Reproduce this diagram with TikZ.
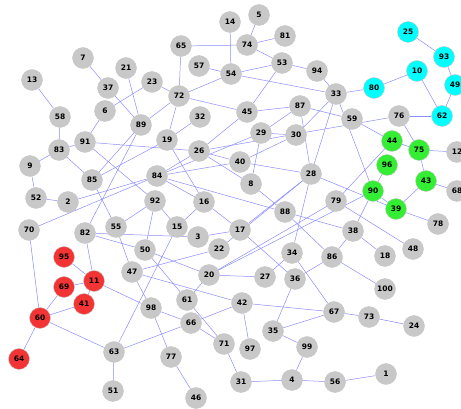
\documentclass[tikz,border=0pt]{standalone}
\usepackage{fontspec}
\setmainfont{DejaVu Sans}
\pgfdeclarelayer{background}
\pgfsetlayers{background,main}
\definecolor{vgray}{RGB}{200,200,200}
\definecolor{vcyan}{RGB}{0,255,255}
\definecolor{vgreen}{RGB}{52,238,52}
\definecolor{vred}{RGB}{242,52,52}
\definecolor{elink}{RGB}{140,140,255}
\tikzset{
  vtx/.style={circle, minimum size=21pt, inner sep=0pt, draw=black!22, line width=0.4pt,
    font=\bfseries\fontsize{7.5}{8}\selectfont},
  edge/.style={draw=elink, line width=0.5pt}
}
\begin{document}
\begin{tikzpicture}[x=1pt,y=-1pt]
\useasboundingbox (0,0) rectangle (461,409);
\foreach \n/\x/\y/\c in {
 14/230/22/vgray, 5/259/15/vgray, 81/285/36/vgray, 74/247/45/vgray, 65/181/46/vgray,
 57/199/66/vgray, 54/231/74/vgray, 53/282/63/vgray, 94/317/71/vgray, 33/336/94/vgray,
 80/374/88/vcyan, 10/417/71/vcyan, 25/408/32/vcyan, 93/444/57/vcyan, 49/455/85/vcyan,
 62/442/116/vcyan, 76/399/116/vgray, 59/352/119/vgray, 7/83/58/vgray, 37/108/88/vgray,
 21/126/68/vgray, 23/152/82/vgray, 13/32/80/vgray, 58/60/117/vgray, 6/105/111/vgray,
 89/141/125/vgray, 72/179/96/vgray, 45/247/112/vgray, 87/300/106/vgray, 29/261/133/vgray,
 30/296/135/vgray, 32/200/117/vgray, 19/167/140/vgray, 26/199/151/vgray, 40/240/162/vgray,
 8/251/184/vgray, 28/311/174/vgray, 44/392/141/vgreen, 75/419/150/vgreen, 12/457/152/vgray,
 96/387/165/vgreen, 43/426/181/vgreen, 68/457/191/vgray, 90/373/191/vgreen, 39/396/209/vgreen,
 78/438/224/vgray, 79/336/201/vgray, 38/353/231/vgray, 48/413/249/vgray, 18/385/256/vgray,
 86/332/257/vgray, 100/385/289/vgray, 83/59/150/vgray, 91/85/142/vgray, 9/30/166/vgray,
 85/92/180/vgray, 52/36/198/vgray, 2/68/202/vgray, 84/157/176/vgray, 92/155/201/vgray,
 16/204/202/vgray, 88/285/212/vgray, 70/29/230/vgray, 82/85/233/vgray, 55/116/227/vgray,
 15/177/227/vgray, 3/198/237/vgray, 17/240/230/vgray, 22/219/249/vgray, 50/145/250/vgray,
 95/64/257/vred, 11/94/281/vred, 69/64/287/vred, 41/84/304/vred, 60/40/318/vred,
 64/19/359/vred, 47/132/272/vgray, 20/209/275/vgray, 27/265/277/vgray, 34/292/253/vgray,
 36/295/279/vgray, 61/187/300/vgray, 42/242/303/vgray, 98/151/308/vgray, 66/191/323/vgray,
 67/334/312/vgray, 73/369/317/vgray, 24/414/326/vgray, 35/273/331/vgray, 99/307/347/vgray,
 71/224/344/vgray, 97/250/349/vgray, 63/114/352/vgray, 77/171/357/vgray, 4/292/380/vgray,
 56/335/382/vgray, 1/386/374/vgray, 31/241/382/vgray, 46/196/398/vgray, 51/113/391/vgray}
  \node[vtx, fill=\c] (n\n) at (\x,\y) {\n};
\begin{pgfonlayer}{background}
\foreach \a/\b in {
 14/54, 5/74, 81/74, 65/74, 74/53, 65/72, 57/54, 54/53, 53/94, 54/33, 53/45, 72/54,
 94/33, 33/80, 80/10, 10/62, 25/93, 93/49, 49/62, 76/62, 76/75,
 7/37, 37/89, 21/89, 23/6, 23/72, 6/91, 13/58, 58/83, 89/72, 89/85, 89/82,
 72/19, 72/45, 45/87, 87/59, 45/26, 19/32, 19/85, 19/16,
 91/83, 91/26, 91/92, 83/9, 83/85, 9/52, 52/2, 2/84, 70/84, 70/60,
 84/26, 84/40, 84/29, 84/16, 84/88, 88/38, 88/8, 88/86,
 26/8, 26/40, 26/76, 40/28, 40/30, 29/30, 29/87, 29/8, 30/33, 87/28, 33/28, 33/90,
 59/44, 44/75, 75/12, 75/43, 43/68, 43/39, 39/78, 39/90, 90/96, 90/38, 28/39,
 44/79, 79/48, 79/20, 90/20,
 38/18, 38/86, 86/100, 86/36,
 28/17, 22/28, 28/34, 34/27, 34/67, 17/16, 17/3, 17/36, 16/15, 15/92, 15/63,
 82/3, 82/50, 82/11, 55/85, 55/92, 55/47, 92/50, 50/61, 50/20,
 47/22, 47/42, 47/98, 98/11, 98/66, 98/77, 77/46, 66/42, 66/71, 66/63, 61/20, 61/71,
 71/31, 42/97, 42/67, 20/27, 36/35, 35/99, 35/67, 67/73, 73/24, 31/4, 4/56, 4/99, 56/1,
 63/60, 63/51, 60/64, 60/69, 60/41, 11/95, 11/69, 11/41}
  \draw[edge] (n\a) -- (n\b);
\end{pgfonlayer}
\end{tikzpicture}
\end{document}
